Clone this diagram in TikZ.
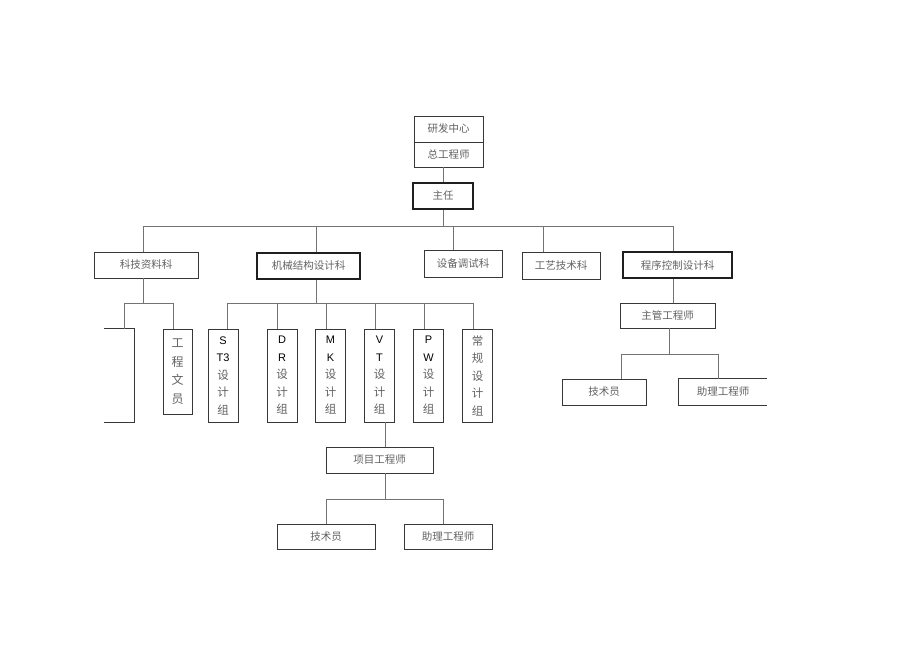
\documentclass[tikz,border=0pt]{standalone}
\usepackage{fontspec}
\newfontfamily\cjk{Noto Sans CJK SC}
\newfontfamily\lat{Liberation Sans}
\newcommand\mylat[1]{{\lat\color{black}\fontsize{11}{17.5}\selectfont#1}}
\begin{document}
\begin{tikzpicture}[x=1pt,y=-1pt,
  box/.style={draw=black!78, line width=0.8pt, inner sep=0pt, text=black!62,
    font=\cjk\fontsize{10.5}{12}\selectfont},
  darkbox/.style={box, line width=1.2pt, draw=black!88},
  vbox/.style={box, align=center, minimum width=30, minimum height=93,
    font=\cjk\fontsize{11.5}{17.5}\selectfont},
  conn/.style={draw=black!55, line width=0.9pt}]
\useasboundingbox (0,0) rectangle (920,650);
% top
\node[box, minimum width=69, minimum height=26] (yf) at (448.5,129) {研发中心};
\node[box, minimum width=69, minimum height=25] (zg) at (448.5,154.5) {总工程师};
\node[darkbox, minimum width=60, minimum height=26] (zr) at (443,196) {主任};
% departments
\node[box, minimum width=104, minimum height=26] (kj) at (146,265) {科技资料科};
\node[darkbox, minimum width=103, minimum height=26] (jx) at (308.5,266) {机械结构设计科};
\node[box, minimum width=78, minimum height=27] (sb) at (463,263.5) {设备调试科};
\node[box, minimum width=78, minimum height=27] (gy) at (561,265.5) {工艺技术科};
\node[darkbox, minimum width=109, minimum height=26] (cx) at (677.5,265) {程序控制设计科};
\coordinate (bus) at (0,226);
\draw[conn] (zr.north) -- (zg.south -| zr.north);
\draw[conn] (zr.south) -- (zr.south |- bus);
\draw[conn] ([xshift=-3pt]kj.north |- bus) -- ([xshift=-4.5pt]cx.north |- bus);
\draw[conn] ([xshift=-3pt]kj.north) -- ([xshift=-3pt]kj.north |- bus);
\draw[conn] ([xshift=7.5pt]jx.north) -- ([xshift=7.5pt]jx.north |- bus);
\draw[conn] ([xshift=-10pt]sb.north) -- ([xshift=-10pt]sb.north |- bus);
\draw[conn] ([xshift=-18pt]gy.north) -- ([xshift=-18pt]gy.north |- bus);
\draw[conn] ([xshift=-4.5pt]cx.north) -- ([xshift=-4.5pt]cx.north |- bus);
% under 科技资料科
\node[inner sep=0pt, minimum width=30, minimum height=93] (pb) at (119,375.5) {};
\draw[draw=black!78, line width=0.8pt] (pb.north west) -- (pb.north east) -- (pb.south east) -- (pb.south west);
\node[vbox, minimum width=29, minimum height=85, font=\cjk\fontsize{12}{18.5}\selectfont] (wy) at (177.5,371.5) {工\\程\\文\\员};
\coordinate (bus2) at (0,303);
\draw[conn] ([xshift=-3pt]kj.south) -- ([xshift=-3pt]kj.south |- bus2);
\draw[conn] ([xshift=5pt]pb.north |- bus2) -- ([xshift=-4.5pt]wy.north |- bus2);
\draw[conn] ([xshift=5pt]pb.north) -- ([xshift=5pt]pb.north |- bus2);
\draw[conn] ([xshift=-4.5pt]wy.north) -- ([xshift=-4.5pt]wy.north |- bus2);
% design groups
\node[vbox] (st) at (223,375.5) {\mylat{S}\\\mylat{T3}\\设\\计\\组};
\node[vbox] (dr) at (282,375.5) {\mylat{D}\\\mylat{R}\\设\\计\\组};
\node[vbox] (mk) at (330.5,375.5) {\mylat{M}\\\mylat{K}\\设\\计\\组};
\node[vbox] (vt) at (379.5,375.5) {\mylat{V}\\\mylat{T}\\设\\计\\组};
\node[vbox] (pw) at (428.5,375.5) {\mylat{P}\\\mylat{W}\\设\\计\\组};
\node[vbox] (cg) at (477.5,375.5) {常\\规\\设\\计\\组};
\draw[conn] ([xshift=7.5pt]jx.south) -- ([xshift=7.5pt]jx.south |- bus2);
\draw[conn] ([xshift=4pt]st.north |- bus2) -- ([xshift=-4.5pt]cg.north |- bus2);
\draw[conn] ([xshift=4pt]st.north) -- ([xshift=4pt]st.north |- bus2);
\draw[conn] ([xshift=-5pt]dr.north) -- ([xshift=-5pt]dr.north |- bus2);
\draw[conn] ([xshift=-4.5pt]mk.north) -- ([xshift=-4.5pt]mk.north |- bus2);
\draw[conn] ([xshift=-4.5pt]vt.north) -- ([xshift=-4.5pt]vt.north |- bus2);
\draw[conn] ([xshift=-4.5pt]pw.north) -- ([xshift=-4.5pt]pw.north |- bus2);
\draw[conn] ([xshift=-4.5pt]cg.north) -- ([xshift=-4.5pt]cg.north |- bus2);
% project engineer
\node[box, minimum width=107, minimum height=26] (xm) at (379.5,460) {项目工程师};
\draw[conn] ([xshift=5.5pt]vt.south) -- ([xshift=5.5pt]xm.north);
\node[box, minimum width=98, minimum height=25] (js1) at (326,536.5) {技术员};
\node[box, minimum width=88, minimum height=25] (zl1) at (448,536.5) {助理工程师};
\coordinate (bus3) at (0,499);
\draw[conn] ([xshift=5.5pt]xm.south) -- ([xshift=5.5pt]xm.south |- bus3);
\draw[conn] (js1.north |- bus3) -- ([xshift=-5pt]zl1.north |- bus3);
\draw[conn] (js1.north) -- (js1.north |- bus3);
\draw[conn] ([xshift=-5pt]zl1.north) -- ([xshift=-5pt]zl1.north |- bus3);
% program control branch
\node[box, minimum width=95, minimum height=25] (zg2) at (667.5,315.5) {主管工程师};
\draw[conn] ([xshift=-4.5pt]cx.south) -- ([xshift=-4.5pt]cx.south |- zg2.north);
\node[box, minimum width=84, minimum height=26] (js2) at (604,392) {技术员};
\node[inner sep=0pt, minimum width=88, minimum height=26, text=black!62,
  font=\cjk\fontsize{10.5}{12}\selectfont] (zl2) at (723,392) {助理工程师};
\draw[draw=black!78, line width=0.8pt] (zl2.north east) -- (zl2.north west) -- (zl2.south west) -- (zl2.south east);
\coordinate (bus4) at (0,354);
\draw[conn] ([xshift=1.5pt]zg2.south) -- ([xshift=1.5pt]zg2.south |- bus4);
\draw[conn] ([xshift=17pt]js2.north |- bus4) -- ([xshift=-5pt]zl2.north |- bus4);
\draw[conn] ([xshift=17pt]js2.north) -- ([xshift=17pt]js2.north |- bus4);
\draw[conn] ([xshift=-5pt]zl2.north) -- ([xshift=-5pt]zl2.north |- bus4);
\end{tikzpicture}
\end{document}
